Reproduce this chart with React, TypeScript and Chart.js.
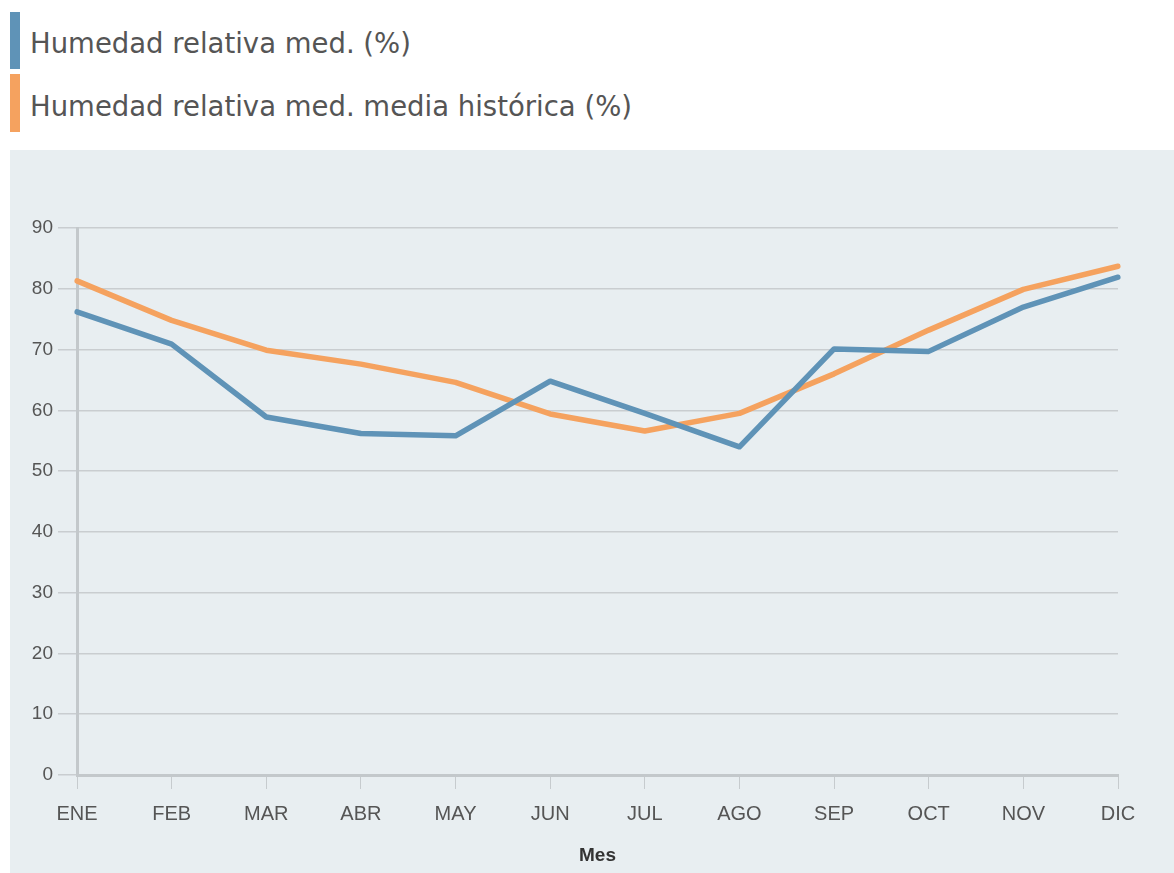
import React, { useEffect, useRef } from 'react';
import { Chart, registerables } from 'chart.js';

Chart.register(...registerables);

const months = ['ENE', 'FEB', 'MAR', 'ABR', 'MAY', 'JUN', 'JUL', 'AGO', 'SEP', 'OCT', 'NOV', 'DIC'];
const humedadMed = [76.2, 70.9, 58.9, 56.2, 55.8, 64.8, 59.5, 54.0, 70.1, 69.7, 77.0, 81.9];
const humedadHistorica = [81.3, 74.8, 69.9, 67.6, 64.6, 59.4, 56.6, 59.5, 66.0, 73.2, 79.9, 83.7];
const seriesNames = ['Humedad relativa med. (%)', 'Humedad relativa med. media histórica (%)'];
const seriesColors = ['#5f93b7', '#f5a25f'];
const yMin = 0;
const yMax = 90;
const yStep = 10;
const xTitle = 'Mes';

export default function App() {
  const canvasRef = useRef<HTMLCanvasElement | null>(null);

  useEffect(() => {
    const canvas = canvasRef.current;
    if (!canvas) return;
    const chart = new Chart(canvas, {
      type: 'line',
      data: {
        labels: months,
        datasets: [
          {
            label: seriesNames[0],
            data: humedadMed,
            borderColor: seriesColors[0],
            backgroundColor: seriesColors[0],
            borderWidth: 5.5,
            pointRadius: 0,
            tension: 0,
            borderJoinStyle: 'round',
            borderCapStyle: 'round',
          },
          {
            label: seriesNames[1],
            data: humedadHistorica,
            borderColor: seriesColors[1],
            backgroundColor: seriesColors[1],
            borderWidth: 5.5,
            pointRadius: 0,
            tension: 0,
            borderJoinStyle: 'round',
            borderCapStyle: 'round',
          },
        ],
      },
      options: {
        animation: false,
        responsive: false,
        maintainAspectRatio: false,
        layout: { padding: { top: 78, right: 56, bottom: 0, left: 0 } },
        plugins: {
          legend: { display: false },
          tooltip: { enabled: false },
        },
        scales: {
          x: {
            type: 'category',
            offset: false,
            afterFit: (s: any) => {
              s.height = 98;
            },
            grid: {
              drawOnChartArea: false,
              drawTicks: true,
              tickLength: 14,
              color: '#c6cbce',
              lineWidth: 1,
            },
            border: { display: true, color: '#c3c8cb', width: 3 },
            ticks: {
              color: '#555555',
              font: { family: 'Liberation Sans, Arial, sans-serif', size: 20 },
              padding: 13,
              maxRotation: 0,
              autoSkip: false,
            },
            title: {
              display: true,
              text: xTitle,
              color: '#333333',
              font: { family: 'Liberation Sans, Arial, sans-serif', size: 19, weight: 'bold' },
              padding: { top: 2, bottom: 6 },
            },
          },
          y: {
            min: yMin,
            max: yMax,
            afterFit: (s: any) => {
              s.width = 67;
            },
            ticks: {
              stepSize: yStep,
              color: '#555555',
              font: { family: 'Liberation Sans, Arial, sans-serif', size: 19 },
              padding: 5,
            },
            grid: {
              color: '#c9cdd0',
              lineWidth: 1.5,
              tickLength: 19,
              drawTicks: true,
            },
            border: { display: true, color: '#c3c8cb', width: 3 },
          },
        },
      },
    });
    return () => chart.destroy();
  }, []);

  const legendFont = '"DejaVu Sans", Verdana, sans-serif';

  return (
    <div style={{ position: 'absolute', left: 0, top: 0, width: 1174, height: 873, background: '#ffffff', overflow: 'hidden' }}>
      {seriesNames.map((name, i) => (
        <div
          key={name}
          style={{
            position: 'absolute',
            left: 10,
            top: i === 0 ? 12 : 74,
            height: i === 0 ? 57 : 58,
            display: 'flex',
            alignItems: 'center',
          }}
        >
          <div style={{ width: 10, height: '100%', background: seriesColors[i] }} />
          <span
            style={{
              marginLeft: 10,
              fontFamily: legendFont,
              fontSize: 27.5,
              color: '#555555',
              whiteSpace: 'nowrap',
              position: 'relative',
              top: i === 0 ? 2 : 3,
            }}
          >
            {name}
          </span>
        </div>
      ))}
      <div style={{ position: 'absolute', left: 10, top: 150, width: 1164, height: 723, background: '#e8eef1' }}>
        <canvas ref={canvasRef} width={1164} height={723} style={{ display: 'block', width: 1164, height: 723 }} />
      </div>
    </div>
  );
}
